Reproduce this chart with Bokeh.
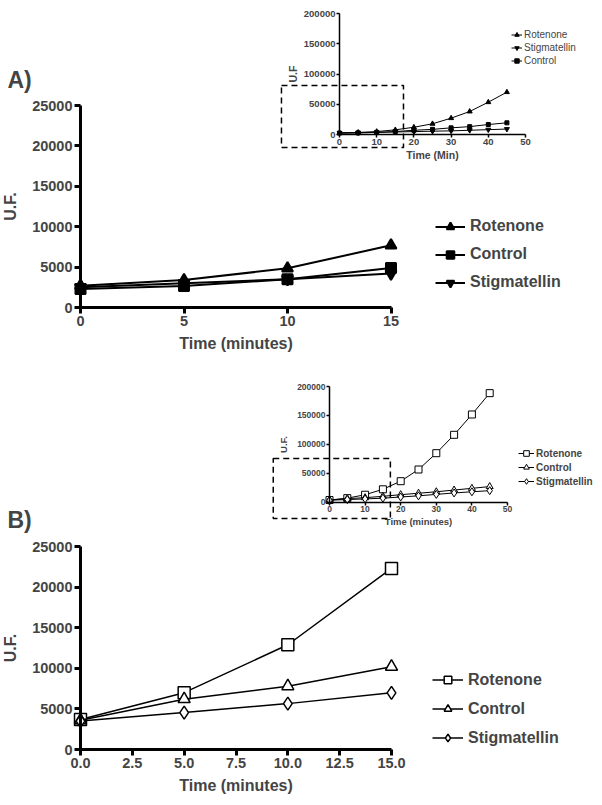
from bokeh.plotting import figure
from bokeh.models import (Range1d, LinearAxis, FixedTicker, Legend, LegendItem,
                          BoxAnnotation, NumeralTickFormatter, Label)
from bokeh.layouts import column
from bokeh.embed import file_html
from bokeh.resources import INLINE

FONT = "Liberation Sans"
NAN = float("nan")

# ---------------- data ----------------
time_main = [0, 5, 10, 15]
a_rotenone = [2700, 3400, 4850, 7700]
a_control = [2300, 2650, 3500, 4900]
a_stigmatellin = [2500, 3000, 3500, 4200]

time_inset = [0, 5, 10, 15, 20, 25, 30, 35, 40, 45]
ai_rotenone = [2700, 3400, 4850, 7700, 12000, 17700, 27000, 38000, 53400, 70000]
ai_stigmatellin = [2500, 3000, 3500, 4200, 4800, 5500, 6000, 7000, 8000, 9000]
ai_control = [2300, 2650, 3500, 4900, 7000, 8500, 11000, 13000, 16500, 19300]

b_rotenone = [3700, 7000, 12900, 22300]
b_control = [3600, 6200, 7800, 10200]
b_stigmatellin = [3500, 4550, 5650, 6980]

bi_rotenone = [3700, 7000, 12900, 22300, 36300, 56500, 84700, 116500, 151600, 188500]
bi_control = [3600, 6200, 7800, 10200, 13000, 15500, 18000, 21000, 24000, 27000]
bi_stigmatellin = [3500, 4550, 5650, 6980, 9000, 11000, 13500, 16000, 18000, 20000]

main_x_ticks = [0, 5, 10, 15]
main_b_x_ticks = [0, 2.5, 5, 7.5, 10, 12.5, 15]
main_y_ticks = [0, 5000, 10000, 15000, 20000, 25000]
inset_x_ticks = [0, 10, 20, 30, 40, 50]
inset_y_ticks = [0, 50000, 100000, 150000, 200000]

W = 600


def mapped_fig(top, height, xpx, xval, ypx, yval, margin_top):
    """Figure whose frame is the whole canvas; ranges chosen so that the
    given data values land on the given page pixels."""
    bx = (xpx[1] - xpx[0]) / (xval[1] - xval[0])
    xs = xval[0] - xpx[0] / bx
    xe = xval[0] + (W - xpx[0]) / bx
    by = (ypx[0] - ypx[1]) / (yval[1] - yval[0])
    ye = yval[0] + (ypx[0] - top) / by
    ys = yval[0] - (top + height - ypx[0]) / by
    p = figure(x_range=Range1d(xs, xe), y_range=Range1d(ys, ye),
               width=W, height=height,
               min_border_top=0, min_border_right=0,
               min_border_bottom=0, min_border_left=0,
               x_axis_location=None, y_axis_location=None,
               output_backend="svg", toolbar_location=None,
               background_fill_color=None, border_fill_color=None,
               margin=(margin_top, 0, 0, 0))
    p.outline_line_color = None
    p.xgrid.visible = False
    p.ygrid.visible = False

    def to_data(px, py):
        return xval[0] + (px - xpx[0]) / bx, yval[0] + (ypx[0] - py) / by
    return p, to_data


def add_axes(p, xb, yb, xt, yt, xlabel, ylabel, st, xfmt="0"):
    xa = LinearAxis(fixed_location=0, bounds=xb, ticker=FixedTicker(ticks=xt),
                    axis_label=xlabel, formatter=NumeralTickFormatter(format=xfmt))
    ya = LinearAxis(fixed_location=0, bounds=yb, ticker=FixedTicker(ticks=yt),
                    axis_label=ylabel, formatter=NumeralTickFormatter(format="0"))
    for ax in (xa, ya):
        ax.axis_line_width = st["lw"]
        ax.major_tick_line_width = st["lw"]
        ax.major_tick_out = st["tick"]
        ax.major_tick_in = 0
        ax.minor_tick_line_color = None
        ax.major_label_text_font = FONT
        ax.major_label_text_font_style = "bold"
        ax.major_label_text_font_size = st["tfs"]
        ax.axis_label_text_font = FONT
        ax.axis_label_text_font_style = "bold"
        ax.axis_label_text_font_size = st["lfs"]
        ax.major_label_standoff = st["ls"]
    xa.axis_label_standoff = st["xals"]
    ya.axis_label_standoff = st["yals"]
    p.add_layout(xa, "below")
    p.add_layout(ya, "left")


def series(p, x, y, marker, size, lw, fill, name, legend_size=None):
    r1 = p.line(x, y, line_color="black", line_width=lw)
    r2 = p.scatter(x, y, marker=marker, size=size, line_color="black",
                   line_width=lw, fill_color=fill)
    if legend_size is None:
        return LegendItem(label=name, renderers=[r1, r2])
    # legend-only marker (smaller, as in the original key); draws nothing in the plot
    r3 = p.scatter([NAN], [NAN], marker=marker, size=legend_size, line_color="black",
                   line_width=lw, fill_color=fill)
    return LegendItem(label=name, renderers=[r1, r3])


def add_legend(p, items, loc, gw, gh, spacing, fs, style, standoff):
    lg = Legend(items=items, location=loc, glyph_width=gw, glyph_height=gh,
                label_height=gh, spacing=spacing, padding=0, margin=0,
                label_standoff=standoff, label_text_font=FONT,
                label_text_font_size=fs, label_text_font_style=style,
                border_line_color=None, background_fill_alpha=0)
    p.add_layout(lg, "center")


def panel_label(p, to_data, px, py, text):
    x, y = to_data(px, py)
    p.add_layout(Label(x=x, y=y, text=text, text_font=FONT, text_font_size="23px",
                       text_font_style="bold", text_baseline="alphabetic",
                       text_align="left"))


def zoom_box(p, left, right, bottom, top):
    p.add_layout(BoxAnnotation(left=left, right=right, bottom=bottom, top=top,
                               fill_color=None, fill_alpha=0,
                               line_color="black", line_alpha=1.0,
                               line_width=1.5, line_dash="6 4"))


main_style = dict(lw=3, tick=6, tfs="14.5px", lfs="16px", ls=2, xals=6, yals=10)
inset_a_style = dict(lw=1.5, tick=3, tfs="9.5px", lfs="10.5px", ls=1, xals=1, yals=2)
inset_b_style = dict(lw=1.5, tick=3, tfs="8.5px", lfs="9.5px", ls=1, xals=0, yals=5)

# ---------------- inset A (page y 0..170) ----------------
ia, _ = mapped_fig(0, 170, (339, 525), (0, 50), (134, 13), (0, 200000), 0)
add_axes(ia, (0, 50), (0, 200000), inset_x_ticks, inset_y_ticks, "Time (Min)", "U.F", inset_a_style)
items = [
    series(ia, time_inset, ai_rotenone, "triangle", 5, 1, "black", "Rotenone"),
    series(ia, time_inset, ai_stigmatellin, "inverted_triangle", 5, 1, "black", "Stigmatellin"),
    series(ia, time_inset, ai_control, "square", 4, 1, "black", "Control"),
]
add_legend(ia, items, (511, 103.5), 11, 13, 0, "10px", "normal", 2)
zoom_box(ia, -15.6, 17.2, -21500, 81000)

# ---------------- main A (page y 62..362) ----------------
ma, ma_data = mapped_fig(62, 300, (80, 390.5), (0, 15), (307, 105), (0, 25000), -108)
add_axes(ma, (0, 15), (0, 25000), main_x_ticks, main_y_ticks, "Time (minutes)", "U.F.", main_style)
items = [
    series(ma, time_main, a_rotenone, "triangle", 11, 2, "black", "Rotenone", 8),
    series(ma, time_main, a_control, "square", 10, 2, "black", "Control", 7),
    series(ma, time_main, a_stigmatellin, "inverted_triangle", 11, 2, "black", "Stigmatellin", 8),
]
add_legend(ma, items, (435, 70.5), 30, 19, 9, "16px", "bold", 5)
panel_label(ma, ma_data, 7, 79, "A)")

# ---------------- inset B (page y 362..530) ----------------
ib, _ = mapped_fig(362, 168, (329, 507), (0, 50), (501.7, 386), (0, 200000), 0)
add_axes(ib, (0, 50), (0, 200000), inset_x_ticks, inset_y_ticks, "Time (minutes)", "U.F.", inset_b_style)
items = [
    series(ib, time_inset, bi_rotenone, "square", 7, 1, "white", "Rotenone"),
    series(ib, time_inset, bi_control, "triangle", 7, 1, "white", "Control"),
    series(ib, time_inset, bi_stigmatellin, "diamond", 8, 1, "white", "Stigmatellin"),
]
add_legend(ib, items, (518, 42), 16, 14, 0, "10px", "bold", 2)
zoom_box(ib, -15.8, 17.1, -28200, 75500)

# ---------------- main B (page y 500..803) ----------------
mbf, mb_data = mapped_fig(500, 303, (80, 391), (0, 15), (749, 546), (0, 25000), -30)
add_axes(mbf, (0, 15), (0, 25000), main_b_x_ticks, main_y_ticks, "Time (minutes)", "U.F.", main_style, xfmt="0.0")
items = [
    series(mbf, time_main, b_rotenone, "square", 12, 1.5, "white", "Rotenone", 8),
    series(mbf, time_main, b_control, "triangle", 12, 1.5, "white", "Control", 9),
    series(mbf, time_main, b_stigmatellin, "diamond", 13, 1.5, "white", "Stigmatellin", 10),
]
add_legend(mbf, items, (432, 56), 31, 19, 10, "16px", "bold", 5)
panel_label(mbf, mb_data, 7, 519, "B)")

layout = column(ia, ma, ib, mbf, spacing=0)

open("out.html", "w").write(file_html(layout, INLINE))
